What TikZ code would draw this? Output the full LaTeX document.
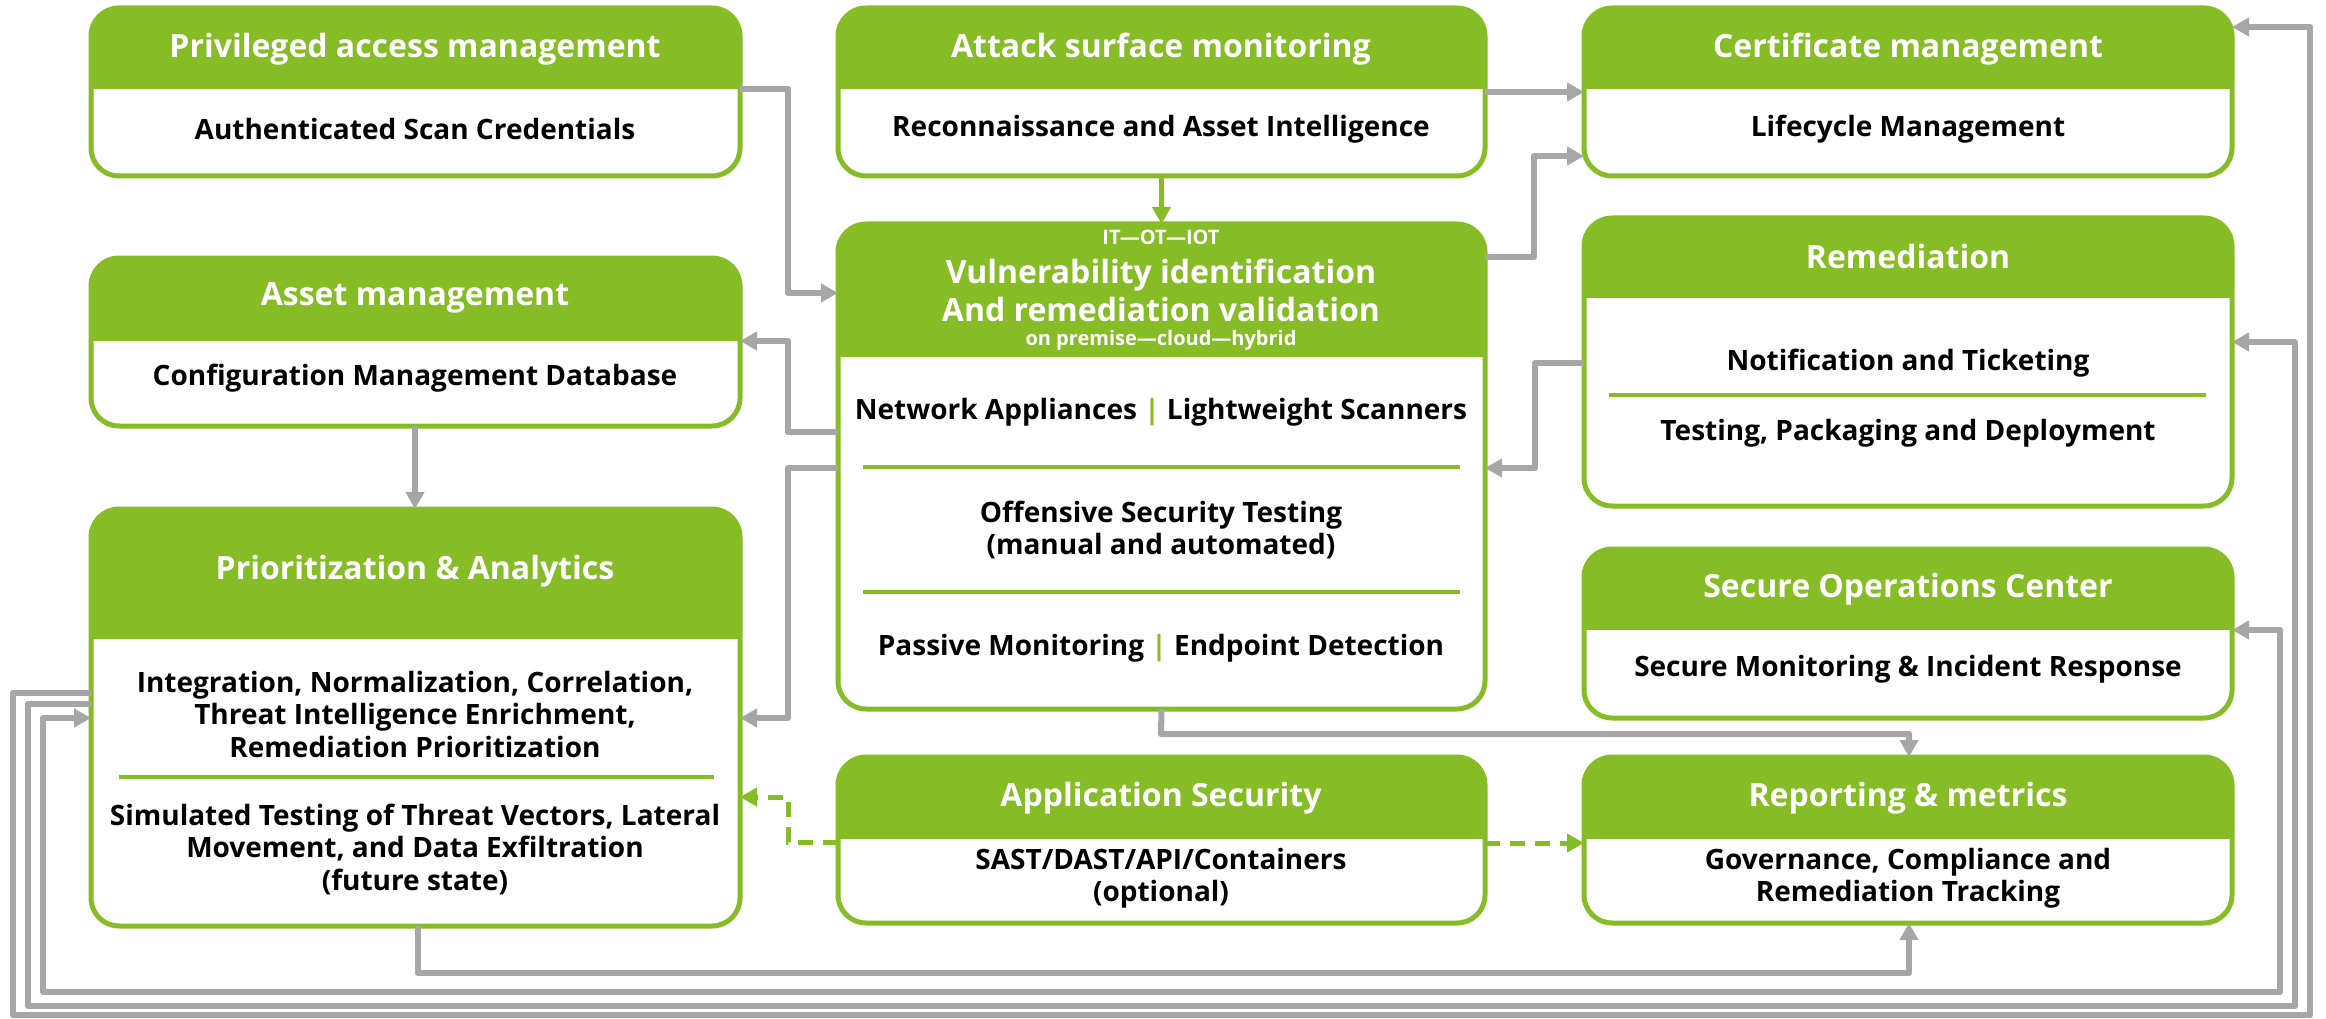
\documentclass[tikz,border=0pt]{standalone}
\usepackage{fontspec}
\setmainfont{Open Sans}
\usetikzlibrary{arrows.meta}
\definecolor{gr}{HTML}{86BC25}
\definecolor{gy}{HTML}{A6A6A6}
\newcommand\gbox[6]{%
  \node[gboxst, minimum width={(#4-#2)*1pt}, minimum height={(#5-#3)*1pt}] (#1) at ({(#2+#4)/2},{(#3+#5)/2}) {};
  \begin{scope}
    \clip (#2-6,#3-6) rectangle (#4+6,#6);
    \fill[gr, rounded corners=28pt] (#2,#3) rectangle (#4,#5);
  \end{scope}
}
\begin{document}
\begin{tikzpicture}[x=1pt,y=-1pt,
  gboxst/.style={rectangle, draw=gr, line width=5pt, fill=white, rounded corners=28pt, inner sep=0pt, outer sep=0pt},
  hd/.style={text=white, font=\bfseries\fontsize{32}{38}\selectfont, align=center, inner sep=0pt},
  hdsmall/.style={text=white, font=\bfseries\fontsize{20}{24}\selectfont, align=center, inner sep=0pt},
  bd/.style={text=black, font=\bfseries\fontsize{28}{32.5}\selectfont, align=center, inner sep=0pt},
  divline/.style={draw=gr, line width=3.5pt},
  conn/.style={draw=gy, line width=6pt, line join=round, -{Triangle[length=17pt,width=18pt]}},
  gconn/.style={draw=gr, line width=5pt, -{Triangle[length=17pt,width=18pt]}},
  gdash/.style={draw=gr, line width=5pt, dash pattern=on 15pt off 10pt, -{Triangle[length=17pt,width=18pt]}}
]
\fill[white] (0,0) rectangle (2326,1019);
\useasboundingbox (0,0) rectangle (2326,1019);

% boxes
\gbox{pam}{91}{8}{740}{176}{89}
\gbox{asm}{838}{8}{1485}{176}{89}
\gbox{cert}{1584}{8}{2232}{176}{89}
\gbox{asset}{91}{258}{740}{426}{340}
\gbox{vuln}{838}{224}{1485}{709}{356}
\gbox{rem}{1584}{218}{2232}{506}{297}
\gbox{prio}{91}{509}{740}{926}{638}
\gbox{soc}{1584}{549}{2232}{718}{629}
\gbox{app}{838}{757}{1485}{923}{838}
\gbox{rep}{1584}{757}{2232}{923}{838}

% headers
\node[hd] (pamh) at (415,49) {Privileged access management};
\node[hd] (asmh) at (1161,49) {Attack surface monitoring};
\node[hd] (certh) at (1908,49) {Certificate management};
\node[hd] (asseth) at (415,298) {Asset management};
\node[hdsmall] (vulnh0) at (1161,237) {IT—OT—IOT};
\node[hd] (vulnh) at (1161,290) {Vulnerability identification\\And remediation validation};
\node[hdsmall] (vulnh2) at (1161,340) {on premise—cloud—hybrid};
\node[hd] (remh) at (1908,257) {Remediation};
\node[hd] (prioh) at (415,571) {Prioritization \& Analytics};
\node[hd] (soch) at (1908,589) {Secure Operations Center};
\node[hd] (apph) at (1161,798) {Application Security};
\node[hd] (reph) at (1908,798) {Reporting \& metrics};

% bodies
\node[bd] (pamb) at (415,129) {Authenticated Scan Credentials};
\node[bd] (asmb) at (1161,129) {Reconnaissance and Asset Intelligence};
\node[bd] (certb) at (1908,129) {Lifecycle Management};
\node[bd] (assetb) at (415,378) {Configuration Management Database};
\node[bd] (vulnb1) at (1161,412) {Network Appliances {\color{gr}|} Lightweight Scanners};
\node[bd] (vulnb2) at (1161,530) {Offensive Security Testing\\(manual and automated)};
\node[bd] (vulnb3) at (1161,648) {Passive Monitoring {\color{gr}|} Endpoint Detection};
\node[bd] (remb1) at (1908,363) {Notification and Ticketing};
\node[bd] (remb2) at (1908,433) {Testing, Packaging and Deployment};
\node[bd] (priob1) at (415,714) {Integration, Normalization, Correlation,\\Threat Intelligence Enrichment,\\Remediation Prioritization};
\node[bd] (priob2) at (415,849) {Simulated Testing of Threat Vectors, Lateral\\Movement, and Data Exfiltration\\(future state)};
\node[bd] (socb) at (1908,669) {Secure Monitoring \& Incident Response};
\node[bd] (appb) at (1161,878) {SAST/DAST/API/Containers\\(optional)};
\node[bd] (repb) at (1908,878) {Governance, Compliance and\\Remediation Tracking};

% dividers
\draw[divline] (863,467) -- (1460,467);
\draw[divline] (863,592) -- (1460,592);
\draw[divline] (1609,395) -- (2206,395);
\draw[divline] (119,777) -- (714,777);

% connectors
\draw[conn] (pam.east |- 0,89) -- (788,89) |- (vuln.west |- 0,293);
\draw[conn] (vuln.west |- 0,432) -- (788,432) |- (asset.east |- 0,341);
\draw[conn] (vuln.west |- 0,468) -- (788,468) |- (prio.east |- 0,718);
\draw[gdash] (app.west |- 0,842) -- (788,842) |- (prio.east |- 0,797);
\draw[gdash] (app.east |- 0,843) -- (rep.west |- 0,843);
\draw[conn] (asm.east |- 0,92) -- (cert.west |- 0,92);
\draw[conn] (vuln.east |- 0,257) -- (1534,257) |- (cert.west |- 0,156);
\draw[conn] (rem.west |- 0,363) -- (1535,363) |- (vuln.east |- 0,468);
\draw[gconn] (asm.south) -- (vuln.north);
\draw[conn] (vuln.south) -- (1161,734) -| (rep.north -| 1909,0);
\draw[conn] (asset.south -| 415,0) -- (prio.north -| 415,0);
\draw[conn] (prio.south -| 418,0) -- (418,973) -| (rep.south -| 1909,0);
\draw[conn] (prio.west |- 0,693) -- (13,693) -- (13,1015) -- (2310,1015) |- (cert.east |- 0,27);
\draw[conn] (prio.west |- 0,704) -- (28,704) -- (28,1006) -- (2295,1006) |- (rem.east |- 0,342);
\draw[conn, {Triangle[length=17pt,width=18pt]}-{Triangle[length=17pt,width=18pt]}] (prio.west |- 0,718) -- (43,718) -- (43,992) -- (2280,992) |- (soc.east |- 0,630);
\end{tikzpicture}
\end{document}
